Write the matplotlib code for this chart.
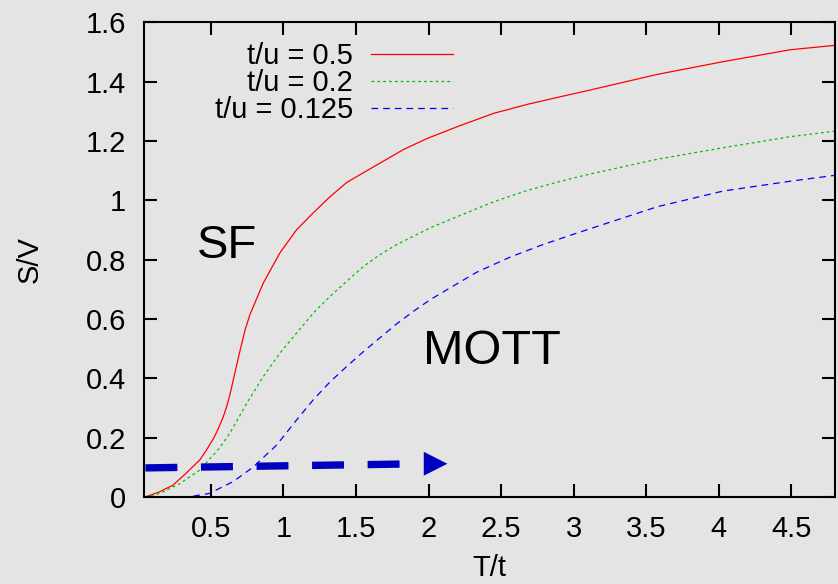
import matplotlib
matplotlib.use("Agg")
import matplotlib.pyplot as plt
from matplotlib.ticker import FormatStrFormatter

plt.rcParams['font.family'] = ['Liberation Sans', 'DejaVu Sans']
plt.rcParams['lines.scale_dashes'] = False

# krzywe S/V w funkcji T/t
T_05 = [0.05, 0.15, 0.24, 0.33, 0.425, 0.47, 0.52, 0.55, 0.586, 0.61, 0.632, 0.66, 0.70,
        0.735, 0.77, 0.862, 0.977, 1.092, 1.207, 1.322, 1.437, 1.552, 1.828, 1.99, 2.22,
        2.45, 2.68, 2.91, 3.11, 3.575, 4.03, 4.49, 4.80]
S_05 = [0.0, 0.018, 0.04, 0.08, 0.125, 0.158, 0.198, 0.228, 0.27, 0.305, 0.345, 0.405, 0.49,
        0.56, 0.615, 0.721, 0.823, 0.901, 0.958, 1.012, 1.06, 1.093, 1.171, 1.208, 1.252,
        1.293, 1.323, 1.349, 1.371, 1.424, 1.467, 1.507, 1.522]

T_02 = [0.05, 0.15, 0.29, 0.425, 0.56, 0.632, 0.748, 0.862, 0.977, 1.092, 1.207, 1.322,
        1.437, 1.552, 1.667, 1.782, 1.897, 2.012, 2.15, 2.45, 2.68, 2.91, 3.11, 3.575,
        4.03, 4.49, 4.80]
S_02 = [0.0, 0.012, 0.046, 0.091, 0.165, 0.215, 0.316, 0.406, 0.485, 0.553, 0.62, 0.676,
        0.727, 0.777, 0.817, 0.851, 0.879, 0.907, 0.935, 0.995, 1.033, 1.064, 1.088, 1.138,
        1.177, 1.214, 1.233]

T_0125 = [0.30, 0.357, 0.49, 0.655, 0.79, 0.954, 1.092, 1.207, 1.322, 1.437, 1.552, 1.667,
          1.782, 1.897, 2.012, 2.15, 2.33, 2.56, 2.79, 3.02, 3.575, 4.03, 4.49, 4.80]
S_0125 = [0.0, 0.001, 0.012, 0.052, 0.10, 0.175, 0.26, 0.328, 0.388, 0.44, 0.49, 0.537,
          0.584, 0.626, 0.665, 0.705, 0.757, 0.808, 0.851, 0.889, 0.978, 1.031, 1.064, 1.084]

etykiety = ["t/u = 0.5", "t/u = 0.2", "t/u = 0.125"]

# strzalka: x poczatku, konca linii i grotu; y poczatku i konca
strzalka_x = [0.05, 1.96, 2.13]
strzalka_y = [0.098, 0.112]

tlo = "#e4e4e4"
fig = plt.figure(figsize=(8.38, 5.84), dpi=100, facecolor=tlo)
ax = fig.add_axes([0.1718, 0.149, 0.8246, 0.813], facecolor=tlo)

ax.plot(T_05, S_05, color="#ff0000", lw=0.9, label=etykiety[0])
ax.plot(T_02, S_02, color="#00c000", lw=0.9, dashes=(2.0, 2.2), label=etykiety[1])
ax.plot(T_0125, S_0125, color="#0000ff", lw=0.9, dashes=(4.8, 3.6), label=etykiety[2])

# gruba przerywana strzalka
ax.plot(strzalka_x[:2], strzalka_y, color="#0000c0", lw=5.3, dashes=(23, 17),
        solid_capstyle="butt", dash_capstyle="butt")
ax.annotate("", xy=(strzalka_x[2], strzalka_y[1]), xytext=(strzalka_x[1], strzalka_y[1]),
            arrowprops=dict(arrowstyle="-|>,head_length=1.7,head_width=0.86",
                            mutation_scale=10, facecolor="#0000c0", edgecolor="none",
                            lw=0, shrinkA=0, shrinkB=0))

ax.text(0.61, 0.845, "SF", fontsize=34, ha="center", va="center")
ax.text(2.44, 0.49, "MOTT", fontsize=35, ha="center", va="center")

ax.set_xlim(0.04, 4.8)
ax.set_ylim(0, 1.6)
ax.set_xticks([0.5, 1, 1.5, 2, 2.5, 3, 3.5, 4, 4.5])
ax.set_yticks([0, 0.2, 0.4, 0.6, 0.8, 1.0, 1.2, 1.4, 1.6])
ax.xaxis.set_major_formatter(FormatStrFormatter("%g"))
ax.yaxis.set_major_formatter(FormatStrFormatter("%g"))
ax.tick_params(direction="in", length=9.5, width=1.5, labelsize=21,
               top=True, right=True)
ax.tick_params(axis="x", pad=13)
ax.tick_params(axis="y", pad=13)
for s in ax.spines.values():
    s.set_linewidth(1.5)

ax.set_xlabel("T/t", fontsize=21, labelpad=8)
ax.set_ylabel("S/V", fontsize=21, labelpad=30)

leg = ax.legend(loc="upper right", bbox_to_anchor=(0.447, 0.958), frameon=False,
                markerfirst=False, fontsize=21, handlelength=2.8, handletextpad=0.62,
                labelspacing=-0.03, borderpad=0, borderaxespad=0)

plt.savefig("out.png", dpi=100, facecolor=tlo)
